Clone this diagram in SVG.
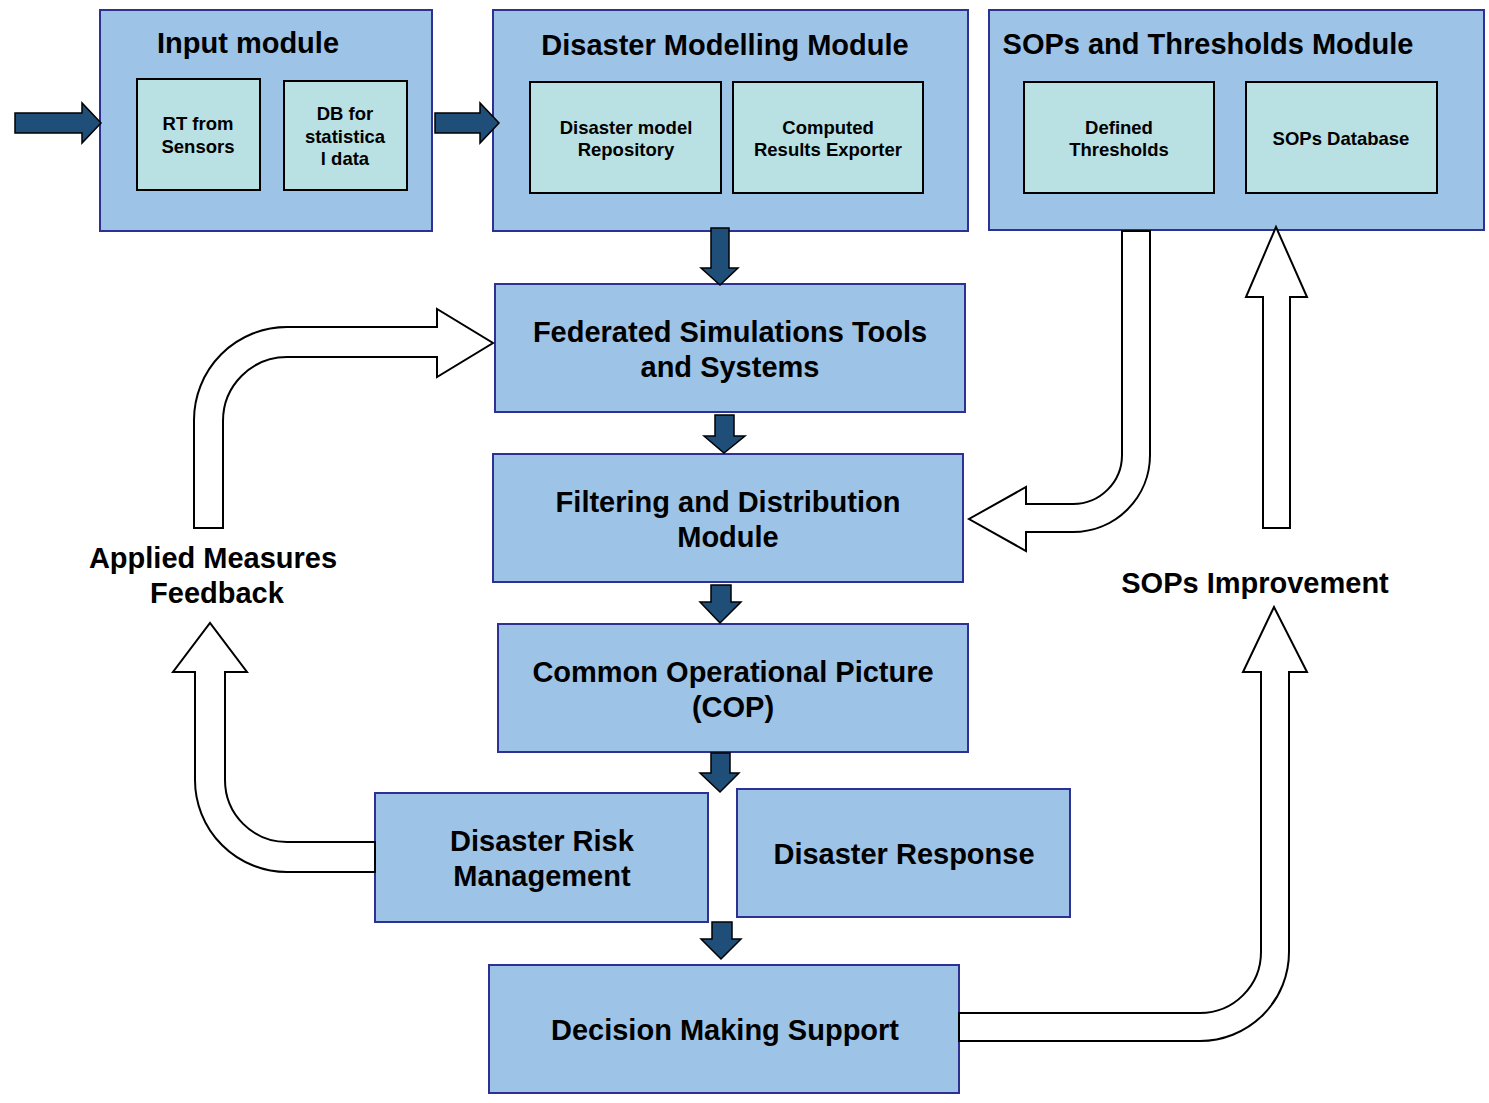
<svg xmlns="http://www.w3.org/2000/svg" width="1489" height="1103" viewBox="0 0 1489 1103">
<style>
.box{fill:#9DC3E6;stroke:#2E3192;stroke-width:2}
.inner{fill:#B9E0E3;stroke:#000;stroke-width:2}
.t{font-family:"Liberation Sans",Arial,sans-serif;font-weight:bold;fill:#000;text-anchor:middle}
.big{font-size:29px}
.small{font-size:18.5px}
.dark{fill:#1F4E79;stroke:#000;stroke-width:1.5;stroke-linejoin:miter}
.hollow{fill:#fff;stroke:#000;stroke-width:2;stroke-linejoin:miter}
</style>
<rect width="1489" height="1103" fill="#fff"/>

<g id="input-module">
<rect class="box" x="100" y="10" width="332" height="221"/>
<text class="t big" x="248" y="53">Input module</text>
<g id="rt-sensors">
<rect class="inner" x="137" y="79" width="123" height="111"/>
<text class="t small" x="198" y="130">RT from</text>
<text class="t small" x="198" y="153">Sensors</text>
</g>
<g id="db-statistical">
<rect class="inner" x="284" y="81" width="123" height="109"/>
<text class="t small" x="345" y="120">DB for</text>
<text class="t small" x="345" y="143">statistica</text>
<text class="t small" x="345" y="165">l data</text>
</g>
</g>

<g id="disaster-modelling-module">
<rect class="box" x="493" y="10" width="475" height="221"/>
<text class="t big" x="725" y="55">Disaster Modelling Module</text>
<g id="disaster-model-repository">
<rect class="inner" x="530" y="82" width="191" height="111"/>
<text class="t small" x="626" y="134">Disaster model</text>
<text class="t small" x="626" y="156">Repository</text>
</g>
<g id="computed-results-exporter">
<rect class="inner" x="733" y="82" width="190" height="111"/>
<text class="t small" x="828" y="134">Computed</text>
<text class="t small" x="828" y="156">Results Exporter</text>
</g>
</g>

<g id="sops-thresholds-module">
<rect class="box" x="989" y="10" width="495" height="220"/>
<text class="t big" x="1208" y="54">SOPs and Thresholds Module</text>
<g id="defined-thresholds">
<rect class="inner" x="1024" y="82" width="190" height="111"/>
<text class="t small" x="1119" y="134">Defined</text>
<text class="t small" x="1119" y="156">Thresholds</text>
</g>
<g id="sops-database">
<rect class="inner" x="1246" y="82" width="191" height="111"/>
<text class="t small" x="1341" y="145">SOPs Database</text>
</g>
</g>

<g id="federated-simulations">
<rect class="box" x="495" y="284" width="470" height="128"/>
<text class="t big" x="730" y="342">Federated Simulations Tools</text>
<text class="t big" x="730" y="377">and Systems</text>
</g>

<g id="filtering-distribution">
<rect class="box" x="493" y="454" width="470" height="128"/>
<text class="t big" x="728" y="512">Filtering and Distribution</text>
<text class="t big" x="728" y="547">Module</text>
</g>

<g id="cop">
<rect class="box" x="498" y="624" width="470" height="128"/>
<text class="t big" x="733" y="682">Common Operational Picture</text>
<text class="t big" x="733" y="717">(COP)</text>
</g>

<g id="disaster-risk-management">
<rect class="box" x="375" y="793" width="333" height="129"/>
<text class="t big" x="542" y="851">Disaster Risk</text>
<text class="t big" x="542" y="886">Management</text>
</g>

<g id="disaster-response">
<rect class="box" x="737" y="789" width="333" height="128"/>
<text class="t big" x="904" y="864">Disaster Response</text>
</g>

<g id="decision-making-support">
<rect class="box" x="489" y="965" width="470" height="128"/>
<text class="t big" x="725" y="1040">Decision Making Support</text>
</g>

<g id="labels">
<text class="t big" x="213" y="568">Applied Measures</text>
<text class="t big" x="217" y="603">Feedback</text>
<text class="t big" x="1255" y="593">SOPs Improvement</text>
</g>

<g id="connectors">
<path class="dark" d="M15,113 L82,113 L82,103 L101,123 L82,143 L82,133 L15,133 Z"/>
<path class="dark" d="M435,113 L480,113 L480,103 L499,123 L480,143 L480,133 L435,133 Z"/>
<path class="dark" d="M711,228 L729,228 L729,268 L738,268 L720,285 L701,268 L711,268 Z"/>
<path class="dark" d="M715,415 L734,415 L734,436 L745,436 L724,453 L704,436 L715,436 Z"/>
<path class="dark" d="M711,585 L731,585 L731,602 L741,602 L720,623 L700,602 L711,602 Z"/>
<path class="dark" d="M711,753 L730,753 L730,773 L739,773 L720,792 L700,773 L711,773 Z"/>
<path class="dark" d="M712,922 L732,922 L732,939 L741,939 L721,959 L701,939 L712,939 Z"/>

<path class="hollow" d="M194,528 L194,420 A93,93 0 0 1 287,327 L437,327 L437,309 L493,343 L437,377 L437,357 L287,357 A64,64 0 0 0 223,421 L223,528 Z"/>
<path class="hollow" d="M375,842 L287,842 A62,62 0 0 1 225,780 L225,672 L247,672 L210,623 L173,672 L195,672 L195,780 A92,92 0 0 0 287,872 L375,872 Z"/>
<path class="hollow" d="M1122,231 L1122,455 A49,49 0 0 1 1073,504 L1026,504 L1026,487 L969,519 L1026,551 L1026,532 L1073,532 A77,77 0 0 0 1150,455 L1150,231 Z"/>
<path class="hollow" d="M1263,528 L1263,297 L1246,297 L1276,227 L1307,297 L1290,297 L1290,528 Z"/>
<path class="hollow" d="M959,1013 L1200,1013 A61,61 0 0 0 1261,952 L1261,672 L1243,672 L1274,607 L1307,672 L1289,672 L1289,952 A89,89 0 0 1 1200,1041 L959,1041 Z"/>
</g>
</svg>
